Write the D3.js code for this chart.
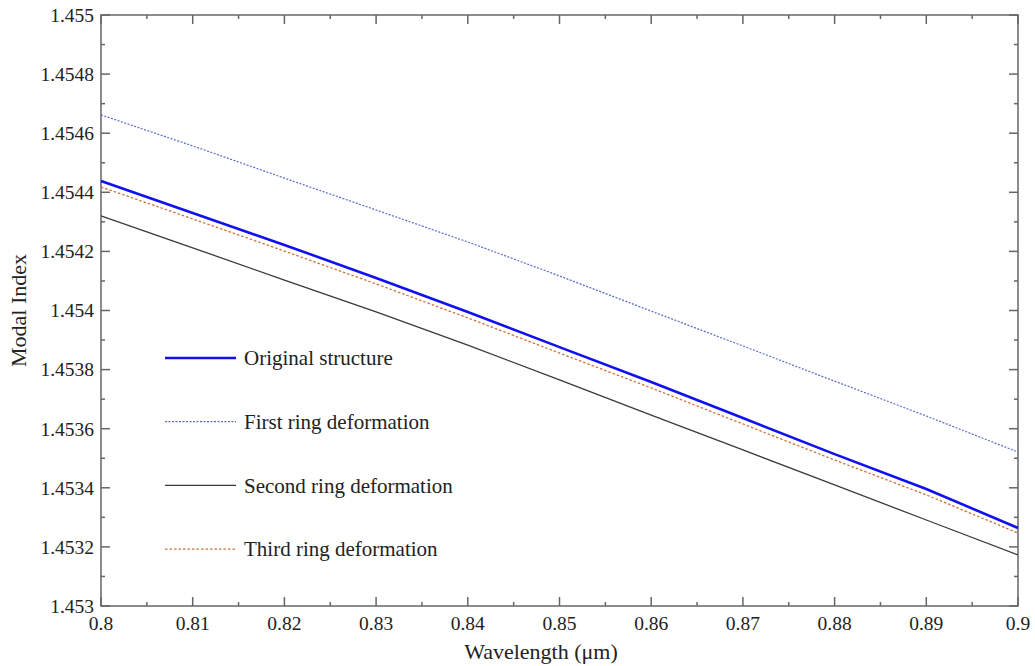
<!DOCTYPE html>
<html lang="en">
<head>
  <meta charset="UTF-8">
  <title>Modal Index vs Wavelength</title>
  <script src="https://cdn.jsdelivr.net/npm/d3@7"></script>
  <style>
    body { margin: 0; background: #fff; }
    svg text { font-family: "Liberation Serif", "Times New Roman", serif; fill: #222; }
    .frame line, .frame rect { stroke: #666; }
  </style>
</head>
<body>
<div id="chart"></div>

<script>
  // wavelength samples (um)
  var wavelengths = [0.80, 0.81, 0.82, 0.83, 0.84, 0.85, 0.86, 0.87, 0.88, 0.89, 0.90];

  // modal index for each structure
  var original = [1.454438, 1.454330, 1.454222, 1.454110, 1.453995, 1.453876, 1.453758, 1.453636, 1.453514, 1.453396, 1.453264];
  var firstRing = [1.454662, 1.454557, 1.454448, 1.454340, 1.454232, 1.454117, 1.453998, 1.453880, 1.453761, 1.453643, 1.453521];
  var secondRing = [1.454320, 1.454212, 1.454103, 1.453995, 1.453883, 1.453765, 1.453646, 1.453528, 1.453410, 1.453291, 1.453173];
  var thirdRing = [1.454418, 1.454310, 1.454201, 1.454090, 1.453975, 1.453856, 1.453738, 1.453616, 1.453494, 1.453376, 1.453247];

  var seriesNames = ["Original structure", "First ring deformation", "Second ring deformation", "Third ring deformation"];

  // ticks
  var xTicks = [0.8, 0.81, 0.82, 0.83, 0.84, 0.85, 0.86, 0.87, 0.88, 0.89, 0.9];
  var yTicks = [1.453, 1.4532, 1.4534, 1.4536, 1.4538, 1.454, 1.4542, 1.4544, 1.4546, 1.4548, 1.455];

  var width = 1035, height = 666;
  var margin = {top: 15, right: 17, bottom: 60, left: 101};
  var innerW = width - margin.left - margin.right;
  var innerH = height - margin.top - margin.bottom;

  var svg = d3.select("#chart").append("svg")
    .attr("width", width)
    .attr("height", height);

  var g = svg.append("g")
    .attr("transform", "translate(" + margin.left + "," + margin.top + ")");

  var x = d3.scaleLinear().domain([0.8, 0.9]).range([0, innerW]);
  var y = d3.scaleLinear().domain([1.453, 1.455]).range([innerH, 0]);

  var fmt = function(d) { return String(+d.toFixed(4)); };

  // minor ticks halfway between majors
  var xMinor = d3.range(0.805, 0.9, 0.01);
  var yMinor = d3.range(1.4531, 1.455, 0.0002);

  // frame + inward ticks on all four sides
  var frame = g.append("g").attr("class", "frame");
  frame.append("rect")
    .attr("width", innerW).attr("height", innerH)
    .attr("fill", "none").attr("stroke-width", 1.5);

  function xTick(v, len) {
    frame.append("line").attr("x1", x(v)).attr("x2", x(v))
      .attr("y1", innerH).attr("y2", innerH - len).attr("stroke-width", 1.5);
    frame.append("line").attr("x1", x(v)).attr("x2", x(v))
      .attr("y1", 0).attr("y2", len).attr("stroke-width", 1.5);
  }
  function yTick(v, len) {
    frame.append("line").attr("y1", y(v)).attr("y2", y(v))
      .attr("x1", 0).attr("x2", len).attr("stroke-width", 1.5);
    frame.append("line").attr("y1", y(v)).attr("y2", y(v))
      .attr("x1", innerW).attr("x2", innerW - len).attr("stroke-width", 1.5);
  }
  xTicks.forEach(function(v) { xTick(v, 9); });
  xMinor.forEach(function(v) { xTick(v, 4); });
  yTicks.forEach(function(v) { yTick(v, 9); });
  yMinor.forEach(function(v) { yTick(v, 4); });

  // tick labels
  g.selectAll(".xlab").data(xTicks).enter().append("text")
    .attr("x", function(d) { return x(d); })
    .attr("y", innerH + 24)
    .attr("text-anchor", "middle")
    .style("font-size", "19.5px")
    .text(fmt);

  g.selectAll(".ylab").data(yTicks).enter().append("text")
    .attr("x", -7)
    .attr("y", function(d) { return y(d); })
    .attr("dy", "0.35em")
    .attr("text-anchor", "end")
    .style("font-size", "19.5px")
    .text(fmt);

  // axis titles
  svg.append("text")
    .attr("x", 541)
    .attr("y", 659)
    .attr("text-anchor", "middle")
    .style("font-size", "22px")
    .text("Wavelength (\u03bcm)");

  svg.append("text")
    .attr("transform", "translate(26," + (margin.top + innerH / 2) + ") rotate(-90)")
    .attr("text-anchor", "middle")
    .style("font-size", "22px")
    .text("Modal Index");

  // series
  var styles = [
    {values: original, color: "#1010f0", width: 2.6, dash: null},
    {values: firstRing, color: "#5a6cc8", width: 1.2, dash: "2,1.5"},
    {values: secondRing, color: "#3a3a3a", width: 1.3, dash: null},
    {values: thirdRing, color: "#d0703a", width: 1.3, dash: "2.5,2"}
  ];

  var line = d3.line()
    .x(function(d, i) { return x(wavelengths[i]); })
    .y(function(d) { return y(d); });

  styles.forEach(function(s) {
    g.append("path")
      .datum(s.values)
      .attr("fill", "none")
      .attr("stroke", s.color)
      .attr("stroke-width", s.width)
      .attr("stroke-dasharray", s.dash)
      .attr("d", line);
  });

  // legend
  var legend = svg.append("g").attr("transform", "translate(165,358)");
  styles.forEach(function(s, i) {
    var row = legend.append("g").attr("transform", "translate(0," + (i * 63.7) + ")");
    row.append("line")
      .attr("x1", 0).attr("x2", 71)
      .attr("stroke", s.color)
      .attr("stroke-width", s.width)
      .attr("stroke-dasharray", s.dash);
    row.append("text")
      .attr("x", 79)
      .attr("dy", "0.35em")
      .style("font-size", "21px")
      .text(seriesNames[i]);
  });
</script>

</body>
</html>
